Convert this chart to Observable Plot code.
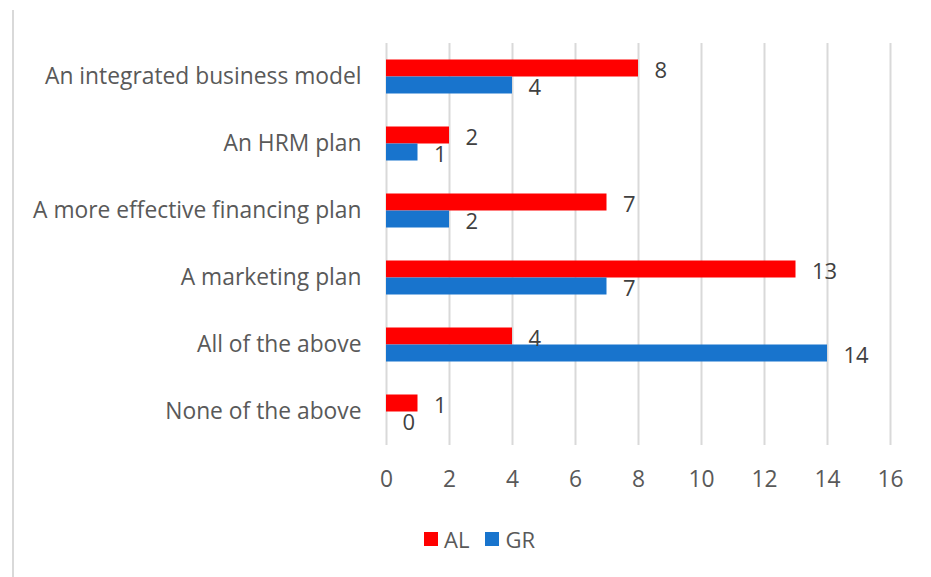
<!DOCTYPE html>
<html><head><meta charset="utf-8">
<script src="https://cdn.jsdelivr.net/npm/d3@7"></script>
<script src="https://cdn.jsdelivr.net/npm/@observablehq/plot@0.6"></script>
<style>
body{margin:0;background:#fff;font-family:"Open Sans",sans-serif;}
#wrap{position:relative;width:931px;height:577px;overflow:hidden;}
#border{position:absolute;left:12px;top:10px;width:2px;height:567px;background:#d9d9d9;}
#chart{position:absolute;left:0;top:0;}
#legend{position:absolute;left:424px;top:523px;display:flex;align-items:center;font-size:22px;color:#595959;line-height:32px;}
#legend .sw{width:14px;height:14px;display:inline-block;margin-right:6px;}
#legend .item{display:flex;align-items:center;margin-right:16px;}
</style>
</head><body>
<div id="wrap"><div id="border"></div><div id="chart"></div><div id="legend"></div></div>
<script>
const categories = ["An integrated business model","An HRM plan","A more effective financing plan","A marketing plan","All of the above","None of the above"];
const series = ["AL","GR"];
const alValues = [8,2,7,13,4,1];
const grValues = [4,1,2,7,14,0];
const xTicks = [0,2,4,6,8,10,12,14,16];
const colors = ["#FF0000","#1874CD"];

const data = [];
categories.forEach((c,i)=>{
  data.push({category:c, series:"AL", value:alValues[i]});
  data.push({category:c, series:"GR", value:grValues[i]});
});

const chart = Plot.plot({
  width:931, height:505,
  marginTop:41.5, marginBottom:58, marginLeft:386, marginRight:41,
  style:{fontFamily:"'Open Sans', sans-serif", fontSize:"22.8px", color:"#595959", background:"transparent"},
  x:{domain:[0,16], ticks:xTicks, tickSize:0, tickPadding:25, label:null, line:false},
  fy:{domain:categories, padding:0, axis:"left", tickSize:0, tickPadding:25, label:null},
  y:{domain:series, paddingInner:0, paddingOuter:0.88, axis:null},
  color:{domain:series, range:colors},
  marks:[
    Plot.ruleX(xTicks,{stroke:"#d9d9d9", strokeWidth:2}),
    Plot.barX(data,{x:"value", y:"series", fy:"category", fill:"series"}),
    Plot.text(data,{x:"value", y:"series", fy:"category", text:d=>String(d.value), textAnchor:"start", dx:16, dy:2, fill:"#404040", fontSize:22})
  ]
});
document.getElementById("chart").appendChild(chart);

const legend = document.getElementById("legend");
series.forEach((s,i)=>{
  const it = document.createElement("div"); it.className="item";
  const sw = document.createElement("span"); sw.className="sw"; sw.style.background=colors[i];
  const t = document.createElement("span"); t.textContent=s;
  it.appendChild(sw); it.appendChild(t); legend.appendChild(it);
});
</script>
</body></html>
